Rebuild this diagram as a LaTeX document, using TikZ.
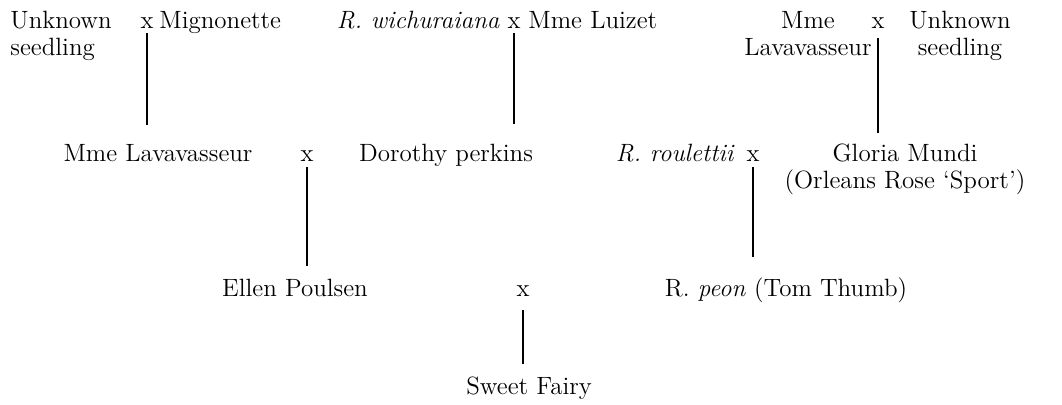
\documentclass[tikz,border=0pt]{standalone}
\usepackage{tikz}
\tikzstyle{variety}=[inner sep=0pt,anchor=base]
\tikzstyle{cross}=[inner sep=0pt,anchor=base]

\begin{document}
\begin{tikzpicture}[
  x=0.5pt, y=-0.5pt,
  font=\fontsize{12.5}{13.5}\selectfont,
  descent/.style={line width=0.8pt, shorten <=2.5pt},
]
\useasboundingbox (0,0) rectangle (1062,404);
% first crosses (two-line names sit on their last line)
\node[variety, anchor=base west, align=left] (unkA) at (10,55) {Unknown\\seedling};
\node[cross] (c1) at (147,28) {x};
\node[variety, anchor=base west] (mign) at (159,28) {Mignonette};
\node[variety, anchor=base east] (wich) at (500,28) {\textit{R. wichuraiana}};
\node[cross] (c2) at (514,28) {x};
\node[variety, anchor=base west] (luiz) at (528,28) {Mme Luizet};
\node[variety, align=center] (lavA) at (808,55) {Mme\\Lavavasseur};
\node[cross] (c3) at (878,28) {x};
\node[variety, align=center] (unkB) at (960,55) {Unknown\\seedling};
% second crosses
\node[variety] (lavB) at (158,161) {Mme Lavavasseur};
\node[cross] (c4) at (307,161) {x};
\node[variety] (doro) at (446,161) {Dorothy perkins};
\node[variety, anchor=base east] (roul) at (735,161) {\textit{R. roulettii}};
\node[cross] (c5) at (753,161) {x};
\node[variety, align=center] (glor) at (905,188) {Gloria Mundi\\(Orleans Rose ‘Sport’)};
% third cross
\node[variety] (ellen) at (295,296) {Ellen Poulsen};
\node[cross] (c6) at (523,296) {x};
\node[variety] (peon) at (786,296) {R. \textit{peon} (Tom Thumb)};
\node[variety] (sweet) at (529,394) {Sweet Fairy};
% descent lines
\draw[descent, shorten >=9.5pt] (c1.south) -- (c1.south |- lavB.north);
\draw[descent, shorten >=9.5pt] (c2.south) -- (c2.south |- doro.north);
\draw[descent, shorten <=5pt, shorten >=5pt] (c3.south) -- (c3.south |- glor.north);
\draw[descent, shorten <=3pt, shorten >=6pt] (c4.south) -- (c4.south |- ellen.north);
\draw[descent, shorten <=3pt, shorten >=10pt] (c5.south) -- (c5.south |- peon.north);
\draw[descent, shorten <=7pt, shorten >=6pt] (c6.south) -- (c6.south |- sweet.north);
\end{tikzpicture}
\end{document}
